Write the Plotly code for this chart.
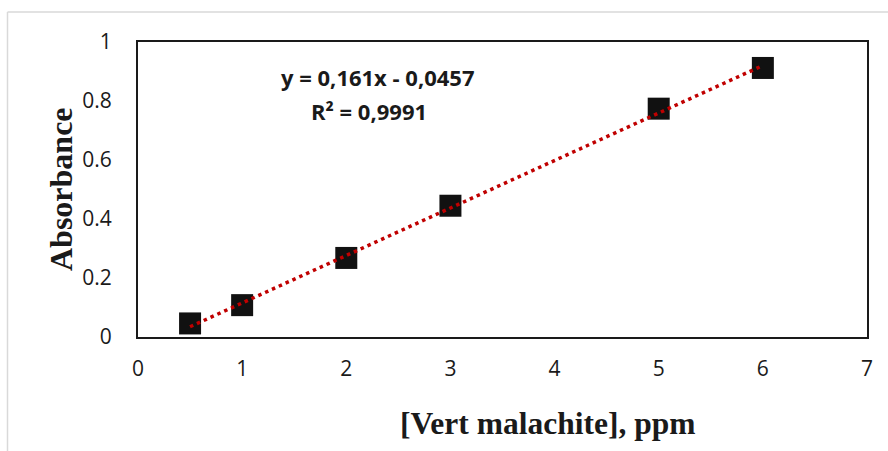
import plotly.graph_objects as go

# Data
conc_ppm = [0.5, 1, 2, 3, 5, 6]
absorbance = [0.046, 0.108, 0.268, 0.445, 0.774, 0.912]
slope = 0.161
intercept = -0.0457
eq_text = "y = 0,161x - 0,0457"
r2_text = "R² = 0,9991"
x_ticks = [0, 1, 2, 3, 4, 5, 6, 7]
y_ticks = [0, 0.2, 0.4, 0.6, 0.8, 1]

W, H = 888, 451
L, R, T, B = 138, 867, 42, 337  # plot area in px


def px(xp):
    return (xp - L) / (R - L)


def py(yp):
    return (B - yp) / (B - T)


trend_x = [min(conc_ppm), max(conc_ppm)]
trend_y = [slope * v + intercept for v in trend_x]

fig = go.Figure()
fig.add_trace(go.Scatter(
    x=conc_ppm, y=absorbance, mode="markers",
    marker=dict(symbol="square", size=22, color="#111111", line=dict(width=0)),
    showlegend=False, cliponaxis=False))
fig.add_trace(go.Scatter(
    x=trend_x, y=trend_y, mode="lines",
    line=dict(color="#c00000", width=3.5, dash="3.5px,4px"),
    showlegend=False))

tick_font = dict(family="Open Sans", size=21, color="#1a1a1a")

fig.update_layout(
    width=W, height=H,
    margin=dict(l=L, r=W - R, t=T, b=H - B, pad=0),
    paper_bgcolor="white", plot_bgcolor="white",
    font=dict(family="Open Sans", size=20, color="#1a1a1a"),
    xaxis=dict(range=[0, 7], tickvals=x_ticks, showgrid=False, zeroline=False,
               showline=True, linecolor="#1a1a1a", linewidth=2, mirror=True,
               ticks="", ticklabelstandoff=12, tickfont=tick_font),
    yaxis=dict(range=[0, 1], tickvals=y_ticks, showgrid=False, zeroline=False,
               showline=True, linecolor="#1a1a1a", linewidth=2, mirror=True,
               ticks="", ticklabelstandoff=20, tickfont=tick_font),
    shapes=[
        dict(type="line", xref="paper", yref="paper", x0=px(7.5), x1=px(890),
             y0=py(12), y1=py(12), line=dict(color="#d9d9d9", width=1.5)),
        dict(type="line", xref="paper", yref="paper", x0=px(7.5), x1=px(7.5),
             y0=py(12), y1=py(455), line=dict(color="#d9d9d9", width=1.5)),
    ],
    annotations=[
        dict(text="<b>" + eq_text + "</b>", xref="paper", yref="paper",
             x=px(378), y=py(77), xanchor="center", yanchor="middle",
             showarrow=False, font=dict(family="Open Sans", size=22, color="#1a1a1a")),
        dict(text="<b>" + r2_text + "</b>", xref="paper", yref="paper",
             x=px(369), y=py(111), xanchor="center", yanchor="middle",
             showarrow=False, font=dict(family="Open Sans", size=22, color="#1a1a1a")),
        dict(text="<b>[Vert malachite], ppm</b>", xref="paper", yref="paper",
             x=px(547), y=py(423), xanchor="center", yanchor="middle",
             showarrow=False, font=dict(family="Liberation Serif", size=31.5, color="#1a1a1a")),
        dict(text="<b>Absorbance</b>", xref="paper", yref="paper",
             x=px(61), y=py(189), xanchor="center", yanchor="middle", textangle=-90,
             showarrow=False, font=dict(family="Liberation Serif", size=32, color="#1a1a1a")),
    ],
)

fig.write_html("out.html")
